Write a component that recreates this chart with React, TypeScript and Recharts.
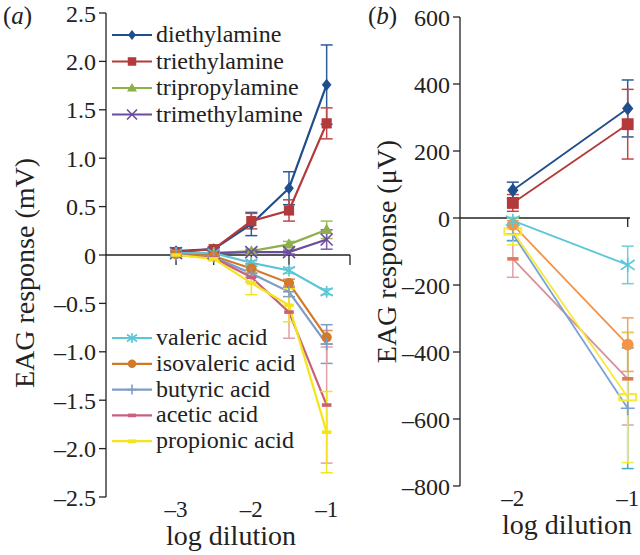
import React from "react";
import { LineChart, Line, XAxis, YAxis, ErrorBar, ReferenceLine, ReferenceDot, Legend } from "recharts";

const FONT = "Liberation Serif";
const INK = "#222";

// panel (a): EAG response (mV) at each log dilution
const dilutionA = [-3, -2.5, -2, -1.5, -1];
const diethylamineA = [0.04, 0.06, 0.32, 0.69, 1.76];
const diethylamineErrA = [0.02, 0.02, 0.12, 0.17, 0.41];
const triethylamineA = [0.03, 0.06, 0.35, 0.46, 1.36];
const triethylamineErrA = [0.02, 0.02, 0.08, 0.11, 0.16];
const tripropylamineA = [0.01, 0.02, 0.04, 0.11, 0.26];
const tripropylamineErrA = [0.01, 0.01, 0.02, 0.03, 0.09];
const trimethylamineA = [0.02, 0.02, 0.03, 0.03, 0.16];
const trimethylamineErrA = [0.01, 0.01, 0.02, 0.02, 0.1];
const valericA = [0.02, 0.02, -0.08, -0.16, -0.38];
const valericErrA = [0.01, 0.01, 0.02, 0.03, 0.03];
const isovalericA = [0.01, -0.01, -0.14, -0.29, -0.85];
const isovalericErrA = [0.01, 0.01, 0.05, 0.04, 0.07];
const butyricA = [0.0, -0.02, -0.19, -0.38, -0.92];
const butyricErrA = [0.01, 0.01, 0.04, 0.05, 0.2];
const aceticA = [0.0, -0.03, -0.23, -0.59, -1.55];
const aceticErrA = [0.01, 0.01, 0.05, 0.27, 0.6];
const propionicA = [0.0, -0.04, -0.29, -0.52, -1.83];
const propionicErrA = [0.01, 0.02, 0.12, 0.17, 0.42];

// panel (b): EAG response (µV)
const dilutionB = [-2, -1];
const diethylamineB = [83, 327];
const diethylamineErrB = [24, 85];
const triethylamineB = [45, 280];
const triethylamineErrB = [25, 104];
const valericB = [-8, -140];
const valericErrB = [10, 56];
const isovalericB = [-20, -378];
const isovalericErrB = [12, 80];
const butyricB = [-48, -568];
const butyricErrB = [20, 180];
const aceticB = [-122, -480];
const aceticErrB = [55, 138];
const propionicB = [-40, -535];
const propionicErrB = [40, 195];

const yTicksA = [-2.5, -2, -1.5, -1, -0.5, 0, 0.5, 1, 1.5, 2, 2.5];
const yTicksB = [-800, -600, -400, -200, 0, 200, 400, 600];
const xTicksA = [-3, -2, -1];
const xTicksB = [-2, -1];
const zeroTicksA = [-3, -2.5, -2, -1.5, -0.69];
const zeroTicksB = [-2, -1];

type Shape = "diamond" | "square" | "triangle" | "cross" | "star" | "circle" | "plus" | "dash" | "box";
type Series = { key: string; name: string; color: string; err: string; shape: Shape; values: number[]; errs: number[] };

const seriesA: Series[] = [
  { key: "diethylamine", name: "diethylamine", color: "#1f4e8c", err: "#2c5c9a", shape: "diamond", values: diethylamineA, errs: diethylamineErrA },
  { key: "triethylamine", name: "triethylamine", color: "#b23a3a", err: "#c04848", shape: "square", values: triethylamineA, errs: triethylamineErrA },
  { key: "tripropylamine", name: "tripropylamine", color: "#8cb04a", err: "#9cbc58", shape: "triangle", values: tripropylamineA, errs: tripropylamineErrA },
  { key: "trimethylamine", name: "trimethylamine", color: "#6c4c9c", err: "#7c5cac", shape: "cross", values: trimethylamineA, errs: trimethylamineErrA },
  { key: "valeric", name: "valeric acid", color: "#5cc6d6", err: "#6ccfdd", shape: "star", values: valericA, errs: valericErrA },
  { key: "isovaleric", name: "isovaleric acid", color: "#d4782a", err: "#e0904a", shape: "circle", values: isovalericA, errs: isovalericErrA },
  { key: "butyric", name: "butyric acid", color: "#7d9cc6", err: "#7d9cc6", shape: "plus", values: butyricA, errs: butyricErrA },
  { key: "acetic", name: "acetic acid", color: "#c8607c", err: "#e0a0a8", shape: "dash", values: aceticA, errs: aceticErrA },
  { key: "propionic", name: "propionic acid", color: "#f4e41c", err: "#f4e41c", shape: "dash", values: propionicA, errs: propionicErrA },
];

const seriesB: Series[] = [
  { key: "diethylamine", name: "diethylamine", color: "#1f4e8c", err: "#2c5c9a", shape: "diamond", values: diethylamineB, errs: diethylamineErrB },
  { key: "triethylamine", name: "triethylamine", color: "#b23a3a", err: "#c04848", shape: "square", values: triethylamineB, errs: triethylamineErrB },
  { key: "acetic", name: "acetic acid", color: "#d8909a", err: "#e0a0a8", shape: "dash", values: aceticB, errs: aceticErrB },
  { key: "butyric", name: "butyric acid", color: "#7aa2d6", err: "#4aa8c8", shape: "plus", values: butyricB, errs: butyricErrB },
  { key: "propionic", name: "propionic acid", color: "#f5ea3a", err: "#f5ea3a", shape: "box", values: propionicB, errs: propionicErrB },
  { key: "isovaleric", name: "isovaleric acid", color: "#f2944a", err: "#f2a060", shape: "circle", values: isovalericB, errs: isovalericErrB },
  { key: "valeric", name: "valeric acid", color: "#5cc6d6", err: "#6ccfdd", shape: "star", values: valericB, errs: valericErrB },
];

function buildRows(xs: number[], series: Series[]) {
  return xs.map((x, i) => {
    const row: Record<string, number> = { x };
    series.forEach((s) => {
      row[s.key] = s.values[i];
      row[s.key + "Err"] = s.errs[i];
    });
    return row;
  });
}

const rowsA = buildRows(dilutionA, seriesA);
const rowsB = buildRows(dilutionB, seriesB);

const fmt = (v: number) => (v === 0 ? "0" : String(v).replace("-", "–"));
const fmtA = (v: number) => (v === 0 ? "0" : v.toFixed(1).replace("-", "–"));

function Marker({ shape, cx, cy, color, s, mk }: { shape: Shape; cx: number; cy: number; color: string; s: number; mk?: string }) {
  const c = mk ?? color;
  switch (shape) {
    case "diamond":
      return <polygon points={`${cx},${cy - s} ${cx + s * 0.8},${cy} ${cx},${cy + s} ${cx - s * 0.8},${cy}`} fill={c} />;
    case "square":
      return <rect x={cx - s * 0.85} y={cy - s * 0.85} width={s * 1.7} height={s * 1.7} fill={c} />;
    case "triangle":
      return <polygon points={`${cx},${cy - s} ${cx + s},${cy + s * 0.7} ${cx - s},${cy + s * 0.7}`} fill={c} />;
    case "cross":
      return (
        <g stroke={c} strokeWidth={1.6}>
          <line x1={cx - s} y1={cy - s} x2={cx + s} y2={cy + s} />
          <line x1={cx - s} y1={cy + s} x2={cx + s} y2={cy - s} />
        </g>
      );
    case "star":
      return (
        <g stroke={c} strokeWidth={1.6}>
          <line x1={cx - s} y1={cy - s * 0.7} x2={cx + s} y2={cy + s * 0.7} />
          <line x1={cx - s} y1={cy + s * 0.7} x2={cx + s} y2={cy - s * 0.7} />
          <line x1={cx} y1={cy - s} x2={cx} y2={cy + s} />
        </g>
      );
    case "circle":
      return <circle cx={cx} cy={cy} r={s * 0.85} fill={c} />;
    case "plus":
      return (
        <g stroke={c} strokeWidth={1.6}>
          <line x1={cx - s} y1={cy} x2={cx + s} y2={cy} />
          <line x1={cx} y1={cy - s} x2={cx} y2={cy + s} />
        </g>
      );
    case "dash":
      return <rect x={cx - s * 0.8} y={cy - 1.8} width={s * 1.6} height={3.6} fill={c} />;
    case "box":
      return <rect x={cx - s * 1.2} y={cy - s * 0.45} width={s * 2.4} height={s * 0.9} fill="none" stroke={c} strokeWidth={2} />;
  }
  return null;
}

const textStyle = { fontFamily: FONT };

function LegendA(props: any) {
  const payload: any[] = props.payload ?? [];
  const shown = new Set(payload.map((p) => String(p.dataKey)));
  const rows = seriesA.filter((s) => shown.has(s.key));
  const top = rows.filter((s) => s.key.endsWith("amine"));
  const bottom = rows.filter((s) => !s.key.endsWith("amine"));
  const item = (s: Series, y: number) => (
    <g key={s.key}>
      <line x1={112} y1={y} x2={152} y2={y} stroke={s.color} strokeWidth={2.2} />
      <Marker shape={s.shape} cx={132} cy={y} color={s.color} s={5} />
      <text x={156} y={y + 7} style={textStyle} fontSize={24} fill={INK}>
        {s.name}
      </text>
    </g>
  );
  return (
    <svg width={360} height={555} style={{ display: "block" }}>
      {top.map((s, i) => item(s, 35 + i * 26.5))}
      {bottom.map((s, i) => item(s, 338 + i * 25.8))}
    </svg>
  );
}

const xTitle = (dx: number) => (props: any) => {
  const vb = props.viewBox;
  return (
    <text x={vb.x + vb.width / 2 + dx} y={vb.y + vb.height - 2} textAnchor="middle" style={textStyle} fontSize={28} fill={INK}>
      log dilution
    </text>
  );
};

const yTitle = (text: string, bx: number, dy: number) => (props: any) => {
  const vb = props.viewBox;
  const x = vb.x + bx;
  const y = vb.y + vb.height / 2 + dy;
  return (
    <text x={x} y={y} transform={`rotate(-90, ${x}, ${y})`} textAnchor="middle" style={textStyle} fontSize={28} fill={INK}>
      {text}
    </text>
  );
};

const tickStyle = { fontSize: 24, fill: INK, style: textStyle };

function XTick(p: any) {
  return (
    <text x={p.x} y={p.y + 20} textAnchor="middle" style={textStyle} fontSize={23} fill={INK}>
      {fmt(p.payload.value)}
    </text>
  );
}

function zeroTick(len: number) {
  return (p: any) => <line x1={p.cx} y1={p.cy} x2={p.cx} y2={p.cy + len} stroke={INK} strokeWidth={1.3} />;
}

function PanelA() {
  return (
    <LineChart width={360} height={555} data={rowsA} margin={{ top: 13, right: 10, bottom: 8, left: 0 }}>
      <XAxis
        type="number"
        dataKey="x"
        domain={[-3.93, -0.69]}
        ticks={xTicksA}
        axisLine={false}
        tickLine={false}
        tickSize={0}
        tickMargin={0}
        height={50}
        tick={XTick}
        label={{ content: xTitle(3) }}
      />
      <YAxis
        type="number"
        domain={[-2.5, 2.5]}
        ticks={yTicksA}
        tickFormatter={fmtA}
        width={106}
        tick={tickStyle}
        tickSize={7}
        tickMargin={3}
        axisLine={{ stroke: INK, strokeWidth: 1.3 }}
        tickLine={{ stroke: INK, strokeWidth: 1.3 }}
        label={{ content: yTitle("EAG response (mV)", 34, 18) }}
      />
      <ReferenceLine y={0} stroke={INK} strokeWidth={1.3} />
      {zeroTicksA.map((t) => (
        <ReferenceDot key={t} x={t} y={0} r={0} shape={zeroTick(10)} />
      ))}
      {seriesA.map((s) => (
        <Line
          key={s.key}
          dataKey={s.key}
          name={s.name}
          stroke={s.color}
          strokeWidth={2.2}
          isAnimationActive={false}
          dot={(p: any) => <Marker key={`${s.key}-${p.index}`} shape={s.shape} cx={p.cx} cy={p.cy} color={s.color} s={6} />}
          activeDot={false}
        >
          <ErrorBar dataKey={s.key + "Err"} width={6} stroke={s.err} strokeWidth={1.5} direction="y" />
        </Line>
      ))}
      <Legend
        content={<LegendA />}
        layout="vertical"
        align="center"
        verticalAlign="middle"
        wrapperStyle={{ left: 0, top: 0, width: 360, height: 555, pointerEvents: "none" }}
      />
    </LineChart>
  );
}

function PanelB() {
  return (
    <LineChart width={280} height={555} data={rowsB} margin={{ top: 17, right: 10, bottom: 19, left: 0 }}>
      <XAxis
        type="number"
        dataKey="x"
        domain={[-2.46, -0.98]}
        ticks={xTicksB}
        axisLine={false}
        tickLine={false}
        tickSize={0}
        tickMargin={0}
        height={50}
        tick={XTick}
        label={{ content: xTitle(22) }}
      />
      <YAxis
        type="number"
        domain={[-800, 600]}
        ticks={yTicksB}
        tickFormatter={fmt}
        width={100}
        tick={tickStyle}
        tickSize={7}
        tickMargin={3}
        axisLine={{ stroke: INK, strokeWidth: 1.3 }}
        tickLine={{ stroke: INK, strokeWidth: 1.3 }}
        label={{ content: yTitle("EAG response (μV)", 36, 0) }}
      />
      <ReferenceLine y={0} stroke={INK} strokeWidth={1.3} />
      {zeroTicksB.map((t) => (
        <ReferenceDot key={t} x={t} y={0} r={0} shape={zeroTick(9)} />
      ))}
      {seriesB.map((s) => (
        <Line
          key={s.key}
          dataKey={s.key}
          name={s.name}
          stroke={s.color}
          strokeWidth={1.8}
          isAnimationActive={false}
          dot={(p: any) => (
            <Marker
              key={`${s.key}-${p.index}`}
              shape={s.shape}
              cx={p.cx}
              cy={p.cy}
              color={s.color}
              s={7}
              mk={s.key === "acetic" ? "#e07a50" : undefined}
            />
          )}
          activeDot={false}
        >
          <ErrorBar dataKey={s.key + "Err"} width={6} stroke={s.err} strokeWidth={1.5} direction="y" />
        </Line>
      ))}
    </LineChart>
  );
}

export default function App() {
  return (
    <div style={{ position: "absolute", left: 0, top: 0, width: 640, height: 555, background: "#fff", fontFamily: FONT }}>
      <div style={{ position: "absolute", left: 0, top: 0 }}>
        <PanelA />
      </div>
      <div style={{ position: "absolute", left: 360, top: 0 }}>
        <PanelB />
      </div>
      <div style={{ position: "absolute", left: 3, top: 2, fontSize: 25, color: INK, lineHeight: "28px" }}>
        (<i>a</i>)
      </div>
      <div style={{ position: "absolute", left: 368, top: 2, fontSize: 25, color: INK, lineHeight: "28px" }}>
        (<i>b</i>)
      </div>
    </div>
  );
}
